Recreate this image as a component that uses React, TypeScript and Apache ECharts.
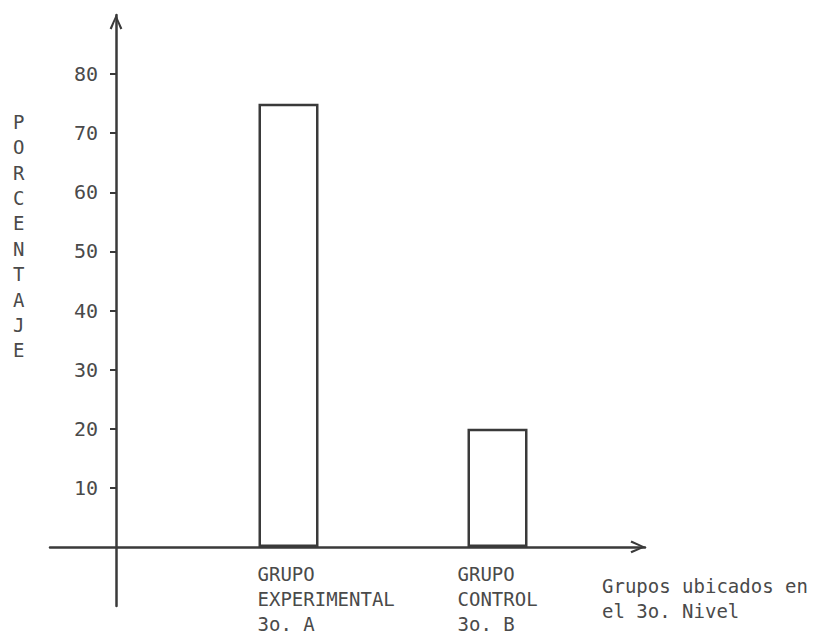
import React, { useEffect, useRef } from 'react';
import * as echarts from 'echarts';

const categories = ['GRUPO\nEXPERIMENTAL\n3o. A', 'GRUPO\nCONTROL\n3o. B'];
const percentages = [75, 20];
const yTickValues = [10, 20, 30, 40, 50, 60, 70, 80];
const yAxisTitle = 'PORCENTAJE';
const xAxisTitle = 'Grupos ubicados en\nel 3o. Nivel';

const INK = '#3a3a3a';
const TEXT = '#4a4a4a';
const FONT = '"DejaVu Sans Mono", "Liberation Mono", monospace';
const CHEVRON = 'path://M5,0 L10,11 L8.4,11.8 L5,3.4 L1.6,11.8 L0,11 Z';

export default function App() {
  const ref = useRef<HTMLDivElement>(null);
  useEffect(() => {
    const chart = echarts.init(ref.current!, null, { renderer: 'svg' });
    const labelShift = [-31, -40];
    chart.setOption({
      animation: false,
      backgroundColor: '#ffffff',
      title: [
        {
          text: yAxisTitle.split('').join('\n'),
          left: 8,
          top: 104,
          textStyle: { fontFamily: FONT, fontSize: 19, fontWeight: 'normal', color: TEXT, lineHeight: 25.4 },
        },
        {
          text: xAxisTitle,
          left: 597,
          top: 568,
          textStyle: { fontFamily: FONT, fontSize: 19, fontWeight: 'normal', color: TEXT, lineHeight: 25 },
        },
      ],
      grid: [
        { left: 50, right: 180, top: 15, bottom: 32 },
        { left: 184, right: 223, top: 15, bottom: 32 },
      ],
      xAxis: [
        {
          type: 'value',
          gridIndex: 0,
          min: 0,
          max: 1,
          axisLine: {
            show: true,
            onZero: true,
            symbol: ['none', CHEVRON],
            symbolSize: [13, 15],
            symbolOffset: [0, -7],
            lineStyle: { color: INK, width: 2.5 },
          },
          axisTick: { show: false },
          axisLabel: { show: false },
          splitLine: { show: false },
        },
        { type: 'category', gridIndex: 1, data: categories, show: false },
      ],
      yAxis: [
        {
          type: 'value',
          gridIndex: 0,
          min: -10,
          max: 90,
          interval: 10,
          offset: -66,
          axisLine: {
            show: true,
            onZero: false,
            symbol: ['none', CHEVRON],
            symbolSize: [13, 15],
            symbolOffset: [0, -7],
            lineStyle: { color: INK, width: 2.5 },
          },
          axisTick: { show: true, customValues: yTickValues, length: 6, lineStyle: { color: INK, width: 2 } },
          axisLabel: { customValues: yTickValues, margin: 18, fontFamily: FONT, fontSize: 20, color: TEXT },
          splitLine: { show: false },
        },
        { type: 'value', gridIndex: 1, min: -10, max: 90, show: false },
      ],
      series: [
        {
          type: 'bar',
          xAxisIndex: 1,
          yAxisIndex: 1,
          barWidth: 60,
          data: percentages.map((v, i) => ({ value: v, label: { offset: [labelShift[i], 15] } })),
          itemStyle: { color: '#ffffff', borderColor: INK, borderWidth: 2.5 },
          label: {
            show: true,
            position: 'bottom',
            distance: 0,
            align: 'left',
            formatter: (p: any) => p.name,
            fontFamily: FONT,
            fontSize: 19,
            lineHeight: 25,
            color: TEXT,
          },
        },
      ],
    });
    return () => chart.dispose();
  }, []);
  return <div ref={ref} style={{ position: 'fixed', left: 0, top: 0, width: 825, height: 638 }} />;
}
